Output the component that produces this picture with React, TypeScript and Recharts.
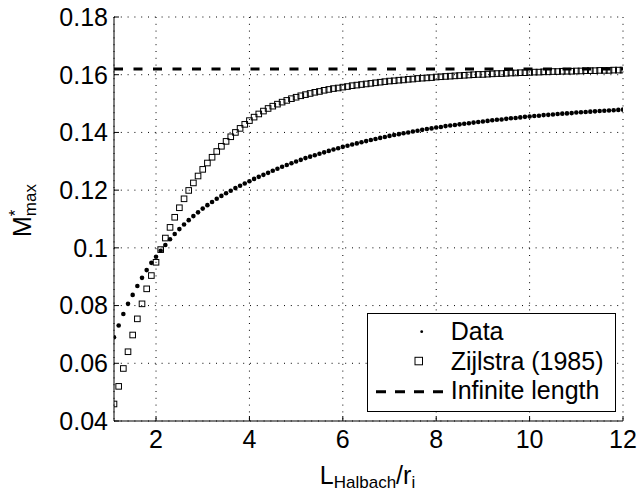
import React from "react";
import {
  ComposedChart,
  Scatter,
  XAxis,
  YAxis,
  CartesianGrid,
  ReferenceLine,
  Legend,
} from "recharts";

// L_Halbach / r_i sample positions
const L_OVER_R = [
  1.1, 1.2, 1.3, 1.4, 1.5, 1.6, 1.7, 1.8, 1.9, 2.0,
  2.1, 2.2, 2.3, 2.4, 2.5, 2.6, 2.7, 2.8, 2.9, 3.0,
  3.1, 3.2, 3.3, 3.4, 3.5, 3.6, 3.7, 3.8, 3.9, 4.0,
  4.1, 4.2, 4.3, 4.4, 4.5, 4.6, 4.7, 4.8, 4.9, 5.0,
  5.1, 5.2, 5.3, 5.4, 5.5, 5.6, 5.7, 5.8, 5.9, 6.0,
  6.1, 6.2, 6.3, 6.4, 6.5, 6.6, 6.7, 6.8, 6.9, 7.0,
  7.1, 7.2, 7.3, 7.4, 7.5, 7.6, 7.7, 7.8, 7.9, 8.0,
  8.1, 8.2, 8.3, 8.4, 8.5, 8.6, 8.7, 8.8, 8.9, 9.0,
  9.1, 9.2, 9.3, 9.4, 9.5, 9.6, 9.7, 9.8, 9.9, 10.0,
  10.1, 10.2, 10.3, 10.4, 10.5, 10.6, 10.7, 10.8, 10.9, 11.0,
  11.1, 11.2, 11.3, 11.4, 11.5, 11.6, 11.7, 11.8, 11.9, 12.0,
];

// M*_max, measured
const DATA_M = [
  0.069, 0.0731, 0.0771, 0.0806, 0.0837, 0.0868, 0.0896, 0.0923, 0.0948, 0.0969,
  0.099, 0.101, 0.103, 0.1048, 0.1065, 0.1081, 0.1096, 0.111, 0.1123, 0.1136,
  0.1148, 0.1159, 0.117, 0.118, 0.1189, 0.1198, 0.1207, 0.1215, 0.1223, 0.1231,
  0.1239, 0.1246, 0.1253, 0.126, 0.1267, 0.1274, 0.1281, 0.1287, 0.1293, 0.1299,
  0.1305, 0.1311, 0.1316, 0.1321, 0.1326, 0.1331, 0.1336, 0.1341, 0.1345, 0.135,
  0.1354, 0.1358, 0.1362, 0.1366, 0.137, 0.1374, 0.1377, 0.1381, 0.1384, 0.1388,
  0.1391, 0.1394, 0.1397, 0.14, 0.1403, 0.1406, 0.1409, 0.1412, 0.1414, 0.1417,
  0.1419, 0.1422, 0.1424, 0.1426, 0.1428, 0.143, 0.1432, 0.1434, 0.1436, 0.1438,
  0.144, 0.1442, 0.1444, 0.1445, 0.1447, 0.1449, 0.145, 0.1452, 0.1454, 0.1455,
  0.1457, 0.1458, 0.146, 0.1461, 0.1462, 0.1464, 0.1465, 0.1466, 0.1467, 0.1469,
  0.147, 0.1471, 0.1472, 0.1473, 0.1474, 0.1475, 0.1476, 0.1477, 0.1478, 0.1479,
];

// M*_max, Zijlstra (1985)
const ZIJLSTRA_M = [
  0.0459, 0.052, 0.0582, 0.064, 0.0698, 0.0754, 0.0806, 0.0858, 0.0904, 0.095,
  0.0994, 0.1034, 0.1071, 0.1106, 0.1139, 0.117, 0.1199, 0.1225, 0.1249, 0.1272,
  0.1294, 0.1314, 0.1334, 0.1352, 0.1369, 0.1385, 0.14, 0.1414, 0.1428, 0.1441,
  0.1453, 0.1464, 0.1474, 0.1483, 0.1491, 0.1498, 0.1505, 0.1511, 0.1517, 0.1522,
  0.1527, 0.1531, 0.1535, 0.1539, 0.1542, 0.1546, 0.1549, 0.1552, 0.1554, 0.1557,
  0.1559, 0.1562, 0.1564, 0.1566, 0.1568, 0.157, 0.1572, 0.1574, 0.1576, 0.1578,
  0.1579, 0.1581, 0.1582, 0.1584, 0.1585, 0.1587, 0.1588, 0.1589, 0.159, 0.1592,
  0.1593, 0.1594, 0.1595, 0.1596, 0.1597, 0.1598, 0.1599, 0.16, 0.1601, 0.1601,
  0.1602, 0.1603, 0.1604, 0.1604, 0.1605, 0.1606, 0.1606, 0.1607, 0.1607, 0.1608,
  0.1609, 0.1609, 0.161, 0.161, 0.1611, 0.1611, 0.1612, 0.1612, 0.1612, 0.1613,
  0.1613, 0.1614, 0.1614, 0.1614, 0.1615, 0.1615, 0.1615, 0.1616, 0.1616, 0.1616,
];

const INFINITE_M = 0.162;

const X_TICKS = [2, 4, 6, 8, 10, 12];
const Y_TICKS = [0.04, 0.06, 0.08, 0.1, 0.12, 0.14, 0.16, 0.18];
const LEGEND_ITEMS = ["Data", "Zijlstra (1985)", "Infinite length"];

const FONT = "'Liberation Sans', Arial, Helvetica, sans-serif";

const dataPoints = L_OVER_R.map((x, i) => ({ x, y: DATA_M[i] }));
const zijlstraPoints = L_OVER_R.map((x, i) => ({ x, y: ZIJLSTRA_M[i] }));

const DotShape = (p: any) => <circle cx={p.cx} cy={p.cy} r={2.3} fill="#000" />;

const SquareShape = (p: any) => (
  <rect
    x={p.cx - 2.8}
    y={p.cy - 2.8}
    width={5.6}
    height={5.6}
    fill="none"
    stroke="#000"
    strokeWidth={1}
  />
);

const LegendBox = () => (
  <svg width={249} height={99} style={{ display: "block" }}>
    <rect x={0.5} y={0.5} width={248} height={98} fill="#fff" stroke="#000" />
    <circle cx={54.7} cy={18.7} r={1.4} fill="#000" />
    <rect x={48} y={44.3} width={7.5} height={7.5} fill="none" stroke="#000" />
    <line
      x1={9}
      x2={81}
      y1={78.7}
      y2={78.7}
      stroke="#000"
      strokeWidth={3}
      strokeDasharray="10 9"
    />
    {LEGEND_ITEMS.map((t, i) => (
      <text key={t} x={83.7} y={27 + 29.5 * i} fontSize={25} fontFamily={FONT} fill="#000">
        {t}
      </text>
    ))}
  </svg>
);

const XLabel = (props: any) => {
  const { x, y, width } = props.viewBox;
  return (
    <text x={x + width / 2 - 1} y={y + 63} textAnchor="middle" fontFamily={FONT} fontSize={25} fill="#000">
      <tspan>L</tspan>
      <tspan fontSize={17} dy={4}>Halbach</tspan>
      <tspan dy={-4}>/r</tspan>
      <tspan fontSize={17} dy={4}>i</tspan>
    </text>
  );
};

const YLabel = (props: any) => {
  const { x, y } = props.viewBox;
  const tx = x + 31;
  const ty = y + 220;
  return (
    <text x={tx} y={ty} transform={`rotate(-90 ${tx} ${ty})`} fontFamily={FONT} fontSize={25} fill="#000">
      <tspan>M</tspan>
      <tspan fontSize={17} dy={-10}>*</tspan>
      <tspan fontSize={17} dx={-6.6} dy={15}>max</tspan>
    </text>
  );
};

export default function App() {
  const tickStyle = { fill: "#000", fontSize: 25, fontFamily: FONT };
  return (
    <div style={{ position: "absolute", left: 0, top: 0, width: 639, height: 493, background: "#fff" }}>
      <ComposedChart width={639} height={493} margin={{ top: 17, right: 16, bottom: 0, left: 0 }}>
        <CartesianGrid stroke="#000" strokeWidth={1} strokeDasharray="1 5.8" />
        <XAxis
          dataKey="x"
          type="number"
          domain={[1.1, 12]}
          ticks={X_TICKS}
          allowDataOverflow
          height={72}
          tickSize={-5}
          tickMargin={14}
          tick={tickStyle}
          tickLine={{ stroke: "#000" }}
          axisLine={{ stroke: "#000" }}
          label={{ content: XLabel }}
        />
        <XAxis
          xAxisId="top"
          orientation="top"
          dataKey="x"
          type="number"
          domain={[1.1, 12]}
          ticks={X_TICKS}
          allowDataOverflow
          height={0}
          tickSize={-5}
          tickFormatter={() => ""}
          tickLine={{ stroke: "#000" }}
          axisLine={{ stroke: "#000" }}
        />
        <YAxis
          dataKey="y"
          type="number"
          domain={[0.04, 0.18]}
          ticks={Y_TICKS}
          allowDataOverflow
          width={114}
          tickSize={-5}
          tickMargin={11}
          tick={tickStyle}
          tickLine={{ stroke: "#000" }}
          axisLine={{ stroke: "#000" }}
          tickFormatter={(v: number) => String(v)}
          label={{ content: YLabel }}
        />
        <YAxis
          yAxisId="right"
          orientation="right"
          dataKey="y"
          type="number"
          domain={[0.04, 0.18]}
          ticks={Y_TICKS}
          allowDataOverflow
          width={0}
          tickSize={-5}
          tickFormatter={() => ""}
          tickLine={{ stroke: "#000" }}
          axisLine={{ stroke: "#000" }}
        />
        <ReferenceLine
          y={INFINITE_M}
          stroke="#000"
          strokeWidth={3}
          strokeDasharray="9 10.5"
        />
        <Scatter
          name="Data"
          data={dataPoints}
          shape={DotShape}
          isAnimationActive={false}
        />
        <Scatter
          name="Zijlstra (1985)"
          data={zijlstraPoints}
          shape={SquareShape}
          isAnimationActive={false}
        />
        <Legend
          content={LegendBox}
          layout="horizontal"
          verticalAlign="middle"
          align="center"
          wrapperStyle={{ left: 367, top: 313, width: 249, height: 99 }}
        />
      </ComposedChart>
    </div>
  );
}
